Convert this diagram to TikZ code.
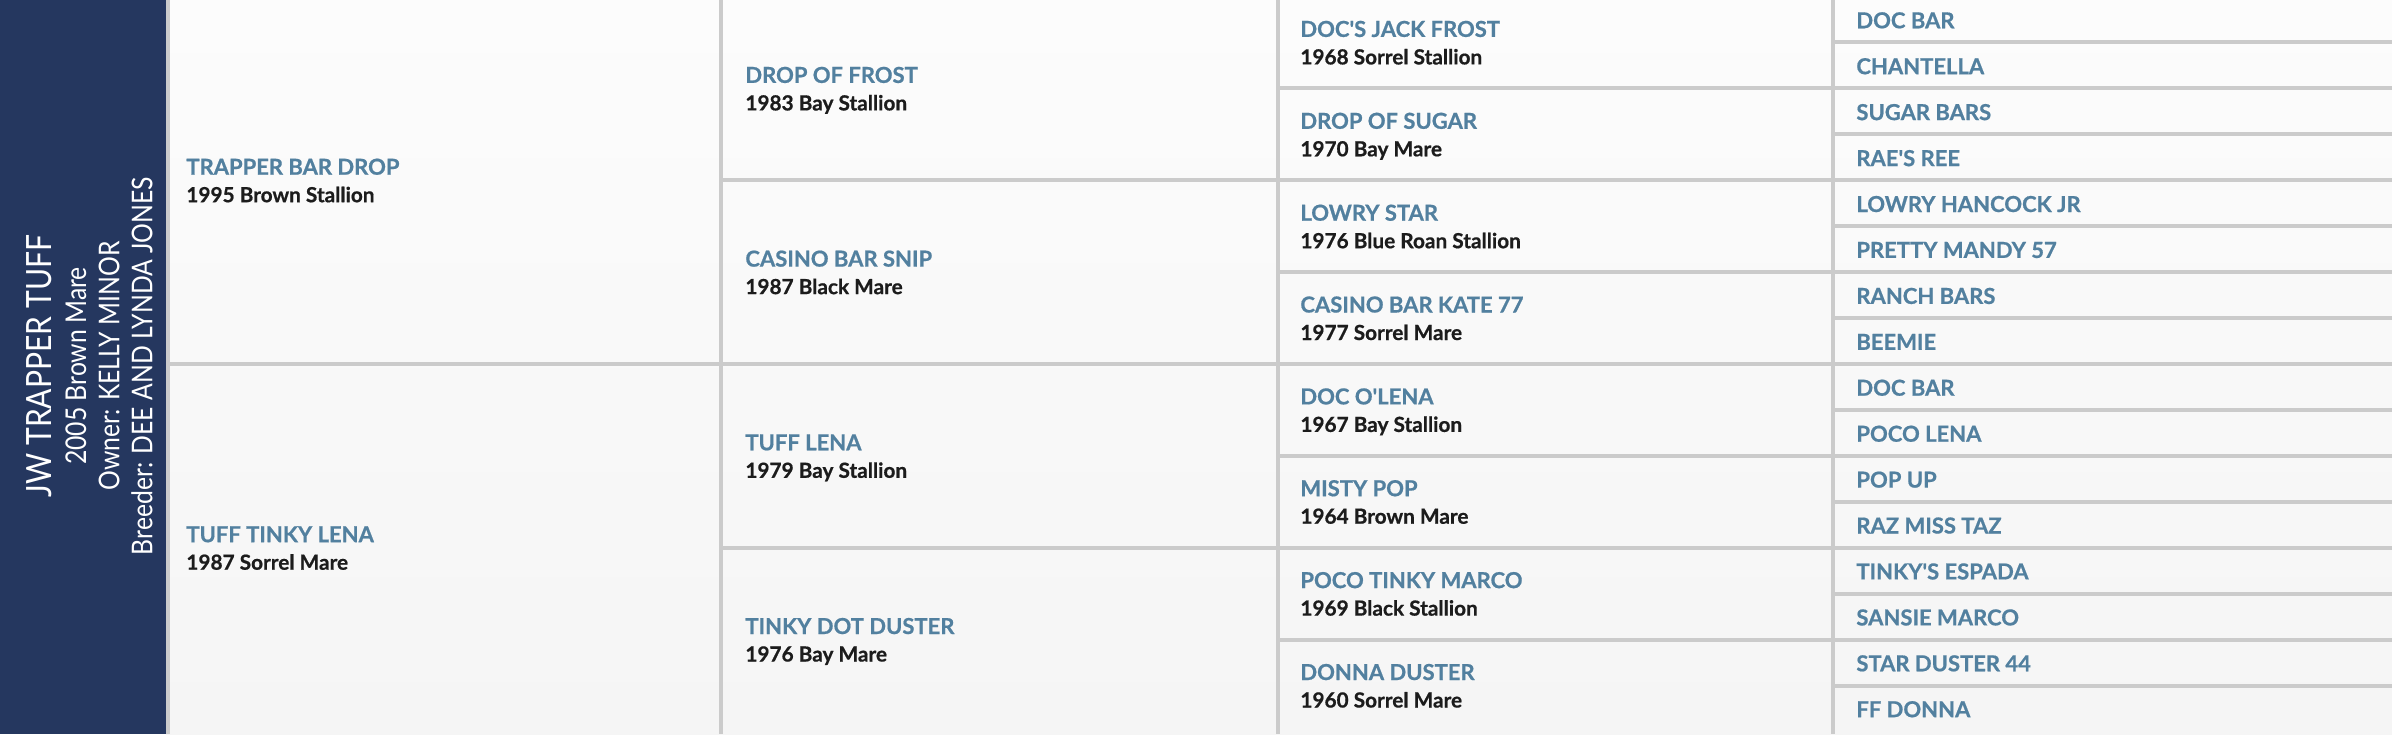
\documentclass[tikz,border=0pt]{standalone}
\usepackage{fontspec}
\setmainfont{Lato}
\newfontfamily\panelfont{Lato}[FakeStretch=0.865]
\newfontfamily\horsefont{Lato}[BoldFeatures={FakeBold=0.7}]

\definecolor{panelnavy}{HTML}{25375F}
\definecolor{nameblue}{HTML}{52809F}
\definecolor{infoblack}{HTML}{1C1C1C}
\definecolor{gridgray}{HTML}{CBCBCB}
\definecolor{celltop}{HTML}{FCFCFC}
\definecolor{cellbottom}{HTML}{F5F5F5}

\tikzset{
	gridline/.style={draw=gridgray, line width=2pt},
	horsename/.style={anchor=base west, inner sep=0pt, text=nameblue,
		font=\horsefont\fontsize{11}{13}\selectfont\bfseries},
	horseinfo/.style={anchor=base west, inner sep=0pt, text=infoblack,
		font=\horsefont\fontsize{10.4}{12}\selectfont\bfseries},
	paneltext/.style={anchor=base, inner sep=0pt, rotate=90, text=white,
		font=\panelfont\fontsize{14.3}{16}\selectfont},
}

\begin{document}
\begin{tikzpicture}[x=0.5pt, y=-0.5pt]
	\useasboundingbox (0, 0) rectangle (2392, 734);
	\fill [top color=celltop, bottom color=cellbottom] (166, 0) rectangle (2392, 734);
	\fill [panelnavy] (0, 0) rectangle (166, 734);

	\node [paneltext, font=\panelfont\fontsize{17.4}{19}\selectfont] (title) at (51.7, 366) {JW TRAPPER TUFF};
	\node [paneltext] (foaled) at (86, 366) {2005 Brown Mare};
	\node [paneltext] (owner) at (119.3, 366) {Owner: KELLY MINOR};
	\node [paneltext] (breeder) at (152.3, 366) {Breeder: DEE AND LYNDA JONES};

	\draw [gridline] (168, 0) -- (168, 734);
	\draw [gridline] (721, 0) -- (721, 734);
	\draw [gridline] (1278, 0) -- (1278, 734);
	\draw [gridline] (1833, 0) -- (1833, 734);

	\draw [gridline] (168, 363.9) -- (2392, 363.9);

	\draw [gridline] (721, 180.2) -- (2392, 180.2);
	\draw [gridline] (721, 547.7) -- (2392, 547.7);

	\draw [gridline] (1278, 88.4) -- (2392, 88.4);
	\draw [gridline] (1278, 272.1) -- (2392, 272.1);
	\draw [gridline] (1278, 455.8) -- (2392, 455.8);
	\draw [gridline] (1278, 639.5) -- (2392, 639.5);

	\draw [gridline] (1833, 42.4) -- (2392, 42.4);
	\draw [gridline] (1833, 134.3) -- (2392, 134.3);
	\draw [gridline] (1833, 226.2) -- (2392, 226.2);
	\draw [gridline] (1833, 318.0) -- (2392, 318.0);
	\draw [gridline] (1833, 409.9) -- (2392, 409.9);
	\draw [gridline] (1833, 501.7) -- (2392, 501.7);
	\draw [gridline] (1833, 593.6) -- (2392, 593.6);
	\draw [gridline] (1833, 685.5) -- (2392, 685.5);

	% parents
	\node [horsename] (s) at (186, 174.7) {TRAPPER BAR DROP};
	\node [horseinfo] (s info) at (186, 202.2) {1995 Brown Stallion};
	\node [horsename] (d) at (186, 542.2) {TUFF TINKY LENA};
	\node [horseinfo] (d info) at (186, 569.7) {1987 Sorrel Mare};

	% grandparents
	\node [horsename] (ss) at (745, 82.9) {DROP OF FROST};
	\node [horseinfo] (ss info) at (745, 110.4) {1983 Bay Stallion};
	\node [horsename] (sd) at (745, 266.6) {CASINO BAR SNIP};
	\node [horseinfo] (sd info) at (745, 294.1) {1987 Black Mare};
	\node [horsename] (ds) at (745, 450.3) {TUFF LENA};
	\node [horseinfo] (ds info) at (745, 477.8) {1979 Bay Stallion};
	\node [horsename] (dd) at (745, 634) {TINKY DOT DUSTER};
	\node [horseinfo] (dd info) at (745, 661.5) {1976 Bay Mare};

	% great-grandparents
	\node [horsename] (sss) at (1300, 36.9) {DOC'S JACK FROST};
	\node [horseinfo] (sss info) at (1300, 64.4) {1968 Sorrel Stallion};
	\node [horsename] (ssd) at (1300, 128.8) {DROP OF SUGAR};
	\node [horseinfo] (ssd info) at (1300, 156.3) {1970 Bay Mare};
	\node [horsename] (sds) at (1300, 220.7) {LOWRY STAR};
	\node [horseinfo] (sds info) at (1300, 248.2) {1976 Blue Roan Stallion};
	\node [horsename] (sdd) at (1300, 312.5) {CASINO BAR KATE 77};
	\node [horseinfo] (sdd info) at (1300, 340) {1977 Sorrel Mare};
	\node [horsename] (dss) at (1300, 404.4) {DOC O'LENA};
	\node [horseinfo] (dss info) at (1300, 431.9) {1967 Bay Stallion};
	\node [horsename] (dsd) at (1300, 496.2) {MISTY POP};
	\node [horseinfo] (dsd info) at (1300, 523.7) {1964 Brown Mare};
	\node [horsename] (dds) at (1300, 588.1) {POCO TINKY MARCO};
	\node [horseinfo] (dds info) at (1300, 615.6) {1969 Black Stallion};
	\node [horsename] (ddd) at (1300, 680) {DONNA DUSTER};
	\node [horseinfo] (ddd info) at (1300, 707.5) {1960 Sorrel Mare};

	% great-great-grandparents
	\node [horsename] (ssss) at (1856, 28.3) {DOC BAR};
	\node [horsename] (sssd) at (1856, 74.2) {CHANTELLA};
	\node [horsename] (ssds) at (1856, 120.1) {SUGAR BARS};
	\node [horsename] (ssdd) at (1856, 166.1) {RAE'S REE};
	\node [horsename] (sdss) at (1856, 212.0) {LOWRY HANCOCK JR};
	\node [horsename] (sdsd) at (1856, 257.9) {PRETTY MANDY 57};
	\node [horsename] (sdds) at (1856, 303.9) {RANCH BARS};
	\node [horsename] (sddd) at (1856, 349.8) {BEEMIE};
	\node [horsename] (dsss) at (1856, 395.7) {DOC BAR};
	\node [horsename] (dssd) at (1856, 441.7) {POCO LENA};
	\node [horsename] (dsds) at (1856, 487.6) {POP UP};
	\node [horsename] (dsdd) at (1856, 533.5) {RAZ MISS TAZ};
	\node [horsename] (ddss) at (1856, 579.4) {TINKY'S ESPADA};
	\node [horsename] (ddsd) at (1856, 625.4) {SANSIE MARCO};
	\node [horsename] (ddds) at (1856, 671.3) {STAR DUSTER 44};
	\node [horsename] (dddd) at (1856, 717.2) {FF DONNA};
\end{tikzpicture}
\end{document}
